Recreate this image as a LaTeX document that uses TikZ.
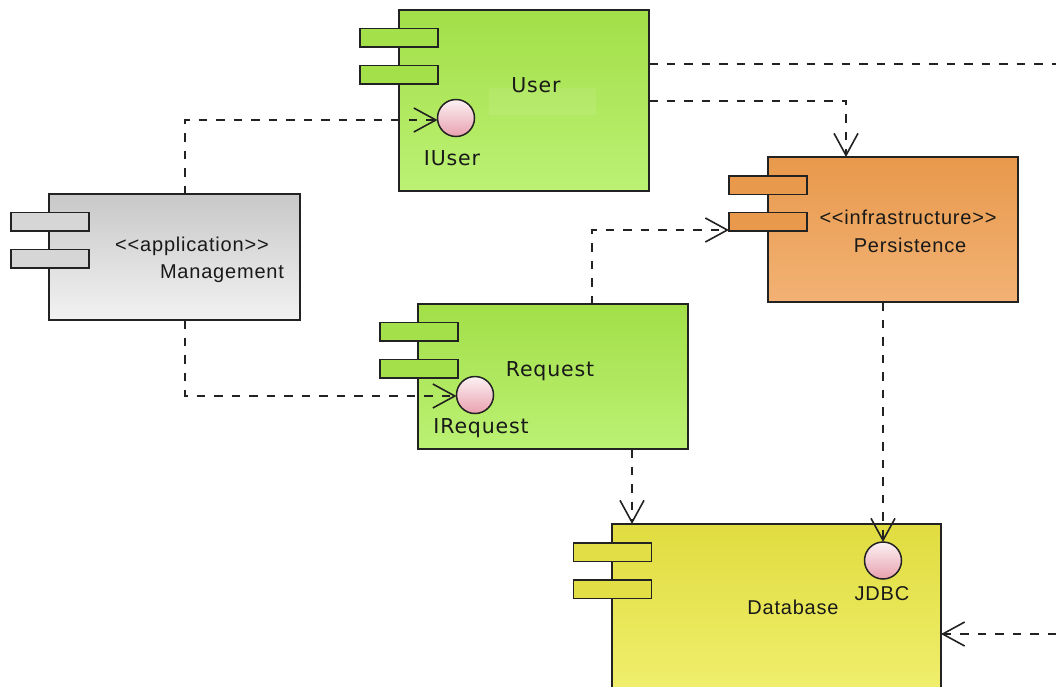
\documentclass[tikz,border=0pt]{standalone}
\usepackage{fontspec}
\setmainfont{DejaVu Sans}[LetterSpace=4]
\newfontfamily\arialfont{Liberation Sans}[LetterSpace=4]
\usetikzlibrary{arrows.meta}
\definecolor{greenT}{HTML}{A2DF48}
\definecolor{greenB}{HTML}{BCF174}
\definecolor{orangeT}{HTML}{E8994C}
\definecolor{orangeB}{HTML}{F2B274}
\definecolor{grayT}{HTML}{C8C8C8}
\definecolor{grayB}{HTML}{F2F2F2}
\definecolor{yellowT}{HTML}{E0DC40}
\definecolor{yellowB}{HTML}{F3F274}
\definecolor{pinkT}{HTML}{FBF2F4}
\definecolor{pinkB}{HTML}{E9A0AE}
\definecolor{lineC}{HTML}{222222}
\tikzset{
  comp/.style={rectangle,draw=lineC,line width=1.5pt,inner sep=0pt,outer sep=0pt,anchor=north west},
  greencomp/.style={comp,top color=greenT,bottom color=greenB},
  orangecomp/.style={comp,top color=orangeT,bottom color=orangeB},
  graycomp/.style={comp,top color=grayT,bottom color=grayB},
  yellowcomp/.style={comp,top color=yellowT,bottom color=yellowB},
  port/.style={rectangle,draw=lineC,line width=1.5pt,inner sep=0pt,outer sep=0pt,minimum width=78pt,minimum height=18.5pt},
  iface/.style={circle,draw=lineC,line width=1.5pt,inner sep=0pt,outer sep=0pt,minimum size=37pt,top color=pinkT,bottom color=pinkB},
  dep/.style={draw=lineC,line width=1.4pt,dash pattern=on 8.5pt off 9pt,-{Straight Barb[length=22pt,width=24pt,line width=1.6pt]}},
  depfree/.style={draw=lineC,line width=1.4pt,dash pattern=on 8.5pt off 9pt},
  lblv/.style={font=\fontsize{20.5}{22}\selectfont,text=black!90,inner sep=0pt},
  lbla/.style={font=\arialfont\fontsize{20}{22}\selectfont,text=black!90,inner sep=0pt},
}
\begin{document}
\begin{tikzpicture}[x=1pt,y=-1pt]
\useasboundingbox (0,0) rectangle (1056,686);
\clip (0,0) rectangle (1056,686);
\fill[white] (0,0) rectangle (1056,686);

% component bodies
\node[greencomp,minimum width=250pt,minimum height=181pt] (user) at (399,10) {};
\node[graycomp,minimum width=251pt,minimum height=126pt] (mgmt) at (49,194) {};
\node[orangecomp,minimum width=250pt,minimum height=145pt] (pers) at (768,157) {};
\node[greencomp,minimum width=270pt,minimum height=145pt] (req) at (418,304) {};
\node[yellowcomp,minimum width=329pt,minimum height=196pt] (db) at (612,524) {};

% faint highlight behind the User label
\fill[white,opacity=0.08] (489,88) rectangle (596,115);

% ports
\node[port,fill=greenT!95!greenB] (up1) at (399,37.5) {};
\node[port,fill=greenT!95!greenB] (up2) at (399,74.5) {};
\node[port,fill=grayT!75!white] (mp1) at (50,221.5) {};
\node[port,fill=grayT!75!white] (mp2) at (50,258.5) {};
\node[port,fill=orangeT] (pp1) at (768,185) {};
\node[port,fill=orangeT] (pp2) at (768,221.5) {};
\node[port,fill=greenT!95!greenB] (rp1) at (419,331.5) {};
\node[port,fill=greenT!95!greenB] (rp2) at (419,368.5) {};
\node[port,fill=yellowT!90!yellowB] (dp1) at (612.5,552) {};
\node[port,fill=yellowT!90!yellowB] (dp2) at (612.5,589) {};

% interfaces
\node[iface] (iuser) at (456,118) {};
\node[iface] (ireq) at (475,395) {};
\node[iface] (jdbc) at (883,560.5) {};

% free ends
\coordinate (eastA) at (1056,64);
\coordinate (eastB) at (1056,634);

% connectors
\draw[dep] ([xshift=10.5pt]mgmt.north) |- ([yshift=-2pt]iuser.west);
\draw[dep] ([xshift=10.5pt]mgmt.south) |- ([yshift=-1pt]ireq.west);
\draw[dep] ([xshift=39pt]req.north) |- (pp2.west |- 0,230);
\draw[dep] (user.east |- 0,101) -| (pers.north west -| 846,0);
\draw[depfree] (user.east |- eastA) -- (eastA);
\draw[dep] (pers.south -| jdbc.north) -- (jdbc.north);
\draw[dep] ([xshift=79pt]req.south) -- (db.north west -| 632,0);
\draw[dep] (eastB) -- (db.east |- eastB);

% labels
\node[lblv] (tuser) at (536,85) {User};
\node[lblv] (tiuser) at (452,158) {IUser};
\node[lbla] (tapp) at (192,246) {<<application>>};
\node[lbla] (tmg) at (222,274) {Management};
\node[lbla] (tinf) at (908,217.5) {<<infrastructure>>};
\node[lbla] (tpers) at (910,245) {Persistence};
\node[lblv] (treq) at (550,371) {Request};
\node[lblv] (tireq) at (481,428) {IRequest};
\node[lbla] (tdb) at (793,607) {Database};
\node[lbla] (tjdbc) at (882,594) {JDBC};
\end{tikzpicture}
\end{document}
